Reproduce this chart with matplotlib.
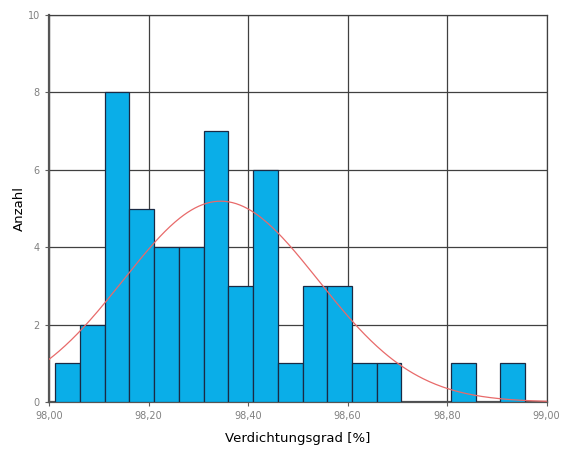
import matplotlib.pyplot as plt
import numpy as np
from matplotlib.ticker import FuncFormatter

# histogram counts per bin (bin width 0.05, first edge ~98.013)
bin_start = 98.0125
bin_width = 0.0497
counts = [1, 2, 8, 5, 4, 4, 7, 3, 6, 1, 3, 3, 1, 1, 0, 0, 1, 0, 1]

# fitted normal curve parameters
n_total = 51
mean = 98.345
sd = 0.196

x_ticks = [98.0, 98.2, 98.4, 98.6, 98.8, 99.0]
y_ticks = [0, 2, 4, 6, 8, 10]

fig = plt.figure(figsize=(5.72, 4.51), dpi=100)
ax = fig.add_axes([0.0857, 0.1086, 0.870, 0.858])

edges = bin_start + bin_width * np.arange(len(counts))
ax.bar(edges, counts, width=bin_width, align='edge', color='#0aaee8',
       edgecolor='#1a2a44', linewidth=0.9, zorder=3)

xs = np.linspace(98.0, 99.0, 400)
ys = n_total * 0.05 / (sd * np.sqrt(2 * np.pi)) * np.exp(-(xs - mean) ** 2 / (2 * sd ** 2))
ax.plot(xs, ys, color='#e86a6a', linewidth=0.9, zorder=4)

ax.set_xlim(98.0, 99.0)
ax.set_ylim(0, 10)
ax.set_xticks(x_ticks)
ax.set_yticks(y_ticks)
ax.xaxis.set_major_formatter(FuncFormatter(lambda v, p: f'{v:.2f}'.replace('.', ',')))
ax.grid(True, color='#404040', linewidth=0.9, zorder=1)
ax.tick_params(labelsize=7, labelcolor='#808080', colors='#606060', length=3)

for side in ['top', 'right']:
    ax.spines[side].set_color('#404040')
    ax.spines[side].set_linewidth(0.9)
for side in ['left', 'bottom']:
    ax.spines[side].set_color('#555555')
    ax.spines[side].set_linewidth(1.6)

ax.set_xlabel('Verdichtungsgrad [%]', fontsize=9.5, labelpad=8)
ax.set_ylabel('Anzahl', fontsize=9.5, labelpad=1)

plt.savefig('out.png')
